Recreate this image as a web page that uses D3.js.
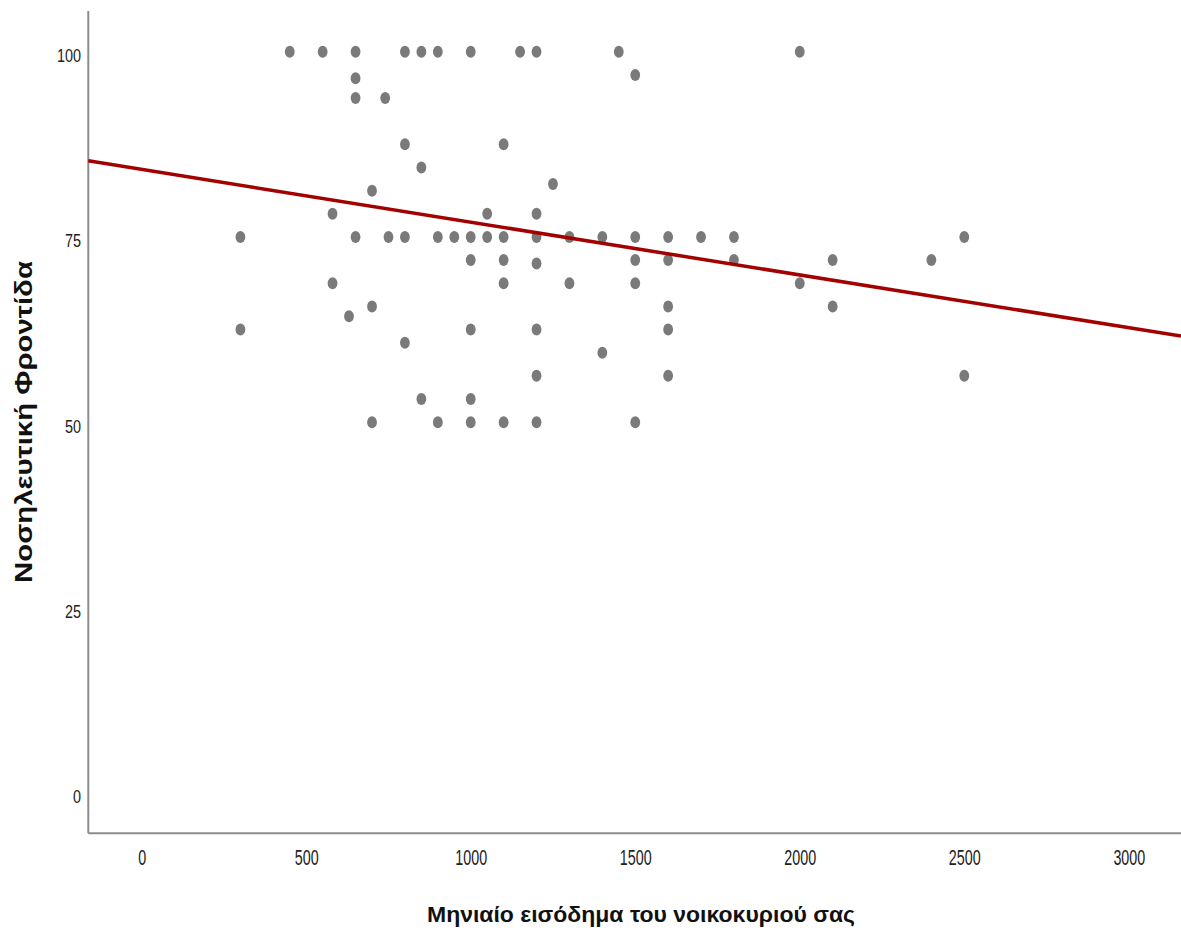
<!DOCTYPE html>
<html>
<head>
<meta charset="utf-8">
<script src="https://cdn.jsdelivr.net/npm/d3@7"></script>
<style>
  html, body { margin: 0; padding: 0; background: #ffffff; }
  svg { display: block; }
</style>
</head>
<body>
<svg id="chart" width="1181" height="933"></svg>
<script>
// ---- data ----
const income = [
  450, 550, 650, 800, 850, 900, 1000, 1150, 1200, 1450, 2000,
  650, 1500,
  650, 740,
  800, 1100,
  850,
  1250,
  700,
  580, 1050, 1200,
  300, 650, 750, 800, 900, 950, 1000, 1050, 1100, 1200, 1300, 1400, 1500, 1600, 1700, 1800, 2500,
  1000, 1100, 1500, 1600, 1800, 2100, 2400,
  1200,
  580, 1100, 1300, 1500, 2000,
  700, 1600, 2100,
  630,
  300, 1000, 1200, 1600,
  800,
  1400,
  1200, 1600, 2500,
  850, 1000,
  700, 900, 1000, 1100, 1200, 1500
];
const nursingCare = [
  100, 100, 100, 100, 100, 100, 100, 100, 100, 100, 100,
  96.43, 96.875,
  93.75, 93.75,
  87.5, 87.5,
  84.375,
  82.14,
  81.25,
  78.125, 78.125, 78.125,
  75, 75, 75, 75, 75, 75, 75, 75, 75, 75, 75, 75, 75, 75, 75, 75, 75,
  71.875, 71.875, 71.875, 71.875, 71.875, 71.875, 71.875,
  71.43,
  68.75, 68.75, 68.75, 68.75, 68.75,
  65.625, 65.625, 65.625,
  64.29,
  62.5, 62.5, 62.5, 62.5,
  60.71,
  59.375,
  56.25, 56.25, 56.25,
  53.125, 53.125,
  50, 50, 50, 50, 50, 50
];
const xTicks = [0, 500, 1000, 1500, 2000, 2500, 3000];
const yTicks = [0, 25, 50, 75, 100];
const fitIntercept = 84.12;
const fitSlope = -0.007125;
const xTitle = "Μηνιαίο εισόδημα του νοικοκυριού σας";
const yTitle = "Νοσηλευτική Φροντίδα";

// ---- layout ----
const mLeft = 88.3, mRight = 1181, mTop = 11, mBottom = 833.3;
const svg = d3.select("#chart");

const x = d3.scaleLinear().domain([-162.3, 3158.7]).range([mLeft, mRight]);
const y = d3.scaleLinear().domain([-5.5, 105.5]).range([mBottom, mTop]);

const FONT = "'Liberation Sans', Arial, sans-serif";

// axis lines
svg.append("line")
  .attr("x1", mLeft).attr("x2", mLeft).attr("y1", mTop).attr("y2", mBottom)
  .attr("stroke", "#8c8c8c").attr("stroke-width", 2);
svg.append("line")
  .attr("x1", mLeft).attr("x2", mRight).attr("y1", mBottom).attr("y2", mBottom)
  .attr("stroke", "#8c8c8c").attr("stroke-width", 2);

// y axis labels
const gy = svg.append("g").attr("transform", `translate(${mLeft},0)`)
  .call(d3.axisLeft(y).tickValues(yTicks).tickSize(0).tickPadding(0));
gy.select(".domain").remove();
gy.selectAll(".tick text")
  .attr("x", 0).attr("dy", null)
  .attr("transform", "translate(-7.3,10) scale(0.78,1)")
  .attr("text-anchor", "end")
  .attr("fill", "#222")
  .style("font-family", FONT).style("font-size", "18.5px");

// x axis labels
const gx = svg.append("g").attr("transform", `translate(0,${mBottom})`)
  .call(d3.axisBottom(x).tickValues(xTicks).tickSize(0).tickPadding(0).tickFormat(d3.format("d")));
gx.select(".domain").remove();
gx.selectAll(".tick text")
  .attr("y", 0).attr("dy", null)
  .attr("transform", "translate(0,31.7) scale(0.65,1)")
  .attr("text-anchor", "middle")
  .attr("fill", "#222")
  .style("font-family", FONT).style("font-size", "22px");

// points
const pts = income.map((v, i) => ({ x: v, y: nursingCare[i] }));
svg.append("g").selectAll("ellipse").data(pts).join("ellipse")
  .attr("cx", d => x(d.x)).attr("cy", d => y(d.y))
  .attr("rx", 4.9).attr("ry", 6)
  .attr("fill", "#7a7a7a");

// regression line
const [x0, x1] = x.domain();
svg.append("line")
  .attr("x1", x(x0)).attr("y1", y(fitIntercept + fitSlope * x0))
  .attr("x2", x(x1)).attr("y2", y(fitIntercept + fitSlope * x1))
  .attr("stroke", "#a30000").attr("stroke-width", 3.5);

// titles
svg.append("text")
  .attr("x", 641).attr("y", 922)
  .attr("text-anchor", "middle")
  .attr("textLength", 428).attr("lengthAdjust", "spacingAndGlyphs")
  .style("font-family", FONT).style("font-size", "22.8px").style("font-weight", "bold")
  .attr("fill", "#111")
  .text(xTitle);

svg.append("text")
  .attr("transform", "translate(32,422) rotate(-90)")
  .attr("text-anchor", "middle")
  .attr("textLength", 322).attr("lengthAdjust", "spacingAndGlyphs")
  .style("font-family", FONT).style("font-size", "23.5px").style("font-weight", "bold")
  .attr("fill", "#111")
  .text(yTitle);
</script>
</body>
</html>
